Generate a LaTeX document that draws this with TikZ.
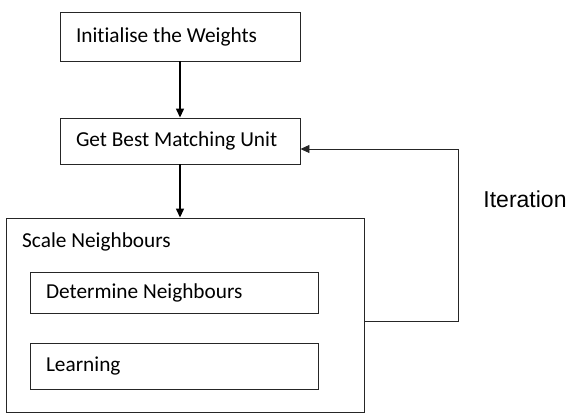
\documentclass[tikz,border=0pt]{standalone}
\usepackage{fontspec}
\setmainfont{Carlito}[Ligatures={NoCommon}]
\newfontfamily\arialfont{Liberation Sans}
\usetikzlibrary{arrows.meta}
\begin{document}
\begin{tikzpicture}[x=1pt,y=-1pt,
  box/.style={draw=black!85, line width=0.9pt, rectangle, inner xsep=16pt, inner ysep=0pt,
    text width=#1-32pt, align=flush left, minimum width=#1, font=\fontsize{21.3}{25}\selectfont},
  box/.default=240pt,
  conn/.style={draw=black, line width=1.3pt, -{Triangle[length=9pt,width=8pt]}},
  loopline/.style={draw=black!85, line width=0.9pt, -{Triangle[length=9pt,width=8pt]}}]
\useasboundingbox (0,0) rectangle (581,418);
\node[box, minimum height=49pt] (init) at (180,36.5) {Initialise the Weights};
\node[box, minimum height=46pt] (bmu) at (180,141) {Get Best Matching Unit};
\node[draw=black!85, line width=0.9pt, rectangle, minimum width=358pt, minimum height=194pt, inner sep=0pt] (scale) at (185,315) {};
\node[anchor=west, inner sep=0pt, font=\fontsize{21.3}{25}\selectfont] (scalelbl) at (22,242) {Scale Neighbours};
\node[box=288pt, minimum height=41pt] (det) at (174,292.5) {Determine Neighbours};
\node[box=288pt, minimum height=46pt] (learn) at (174,366) {Learning};
\node[font=\arialfont\fontsize{23}{27}\selectfont, inner sep=0pt] (iter) at (525,199) {Iteration};
\coordinate (c1) at (458,321);
\coordinate (c2) at (458,149);
\draw[conn] (init) -- (bmu);
\draw[conn] (bmu) -- (bmu |- scale.north);
\draw[loopline] (scale.east |- c1) -- (c1) -- (c2) -- (bmu.east |- c2);
\end{tikzpicture}
\end{document}
